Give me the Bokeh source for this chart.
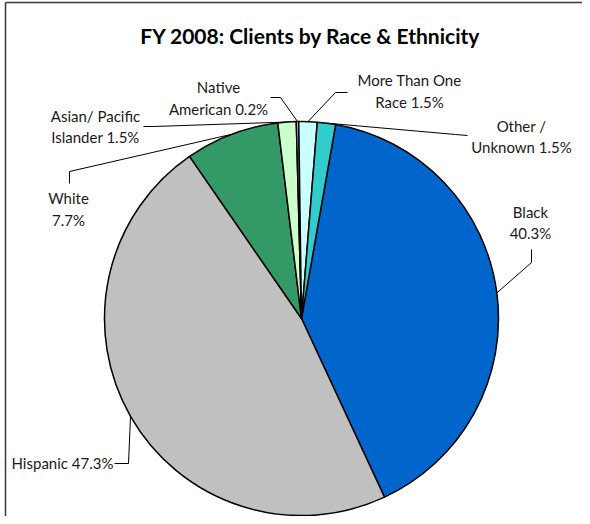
import numpy as np
from bokeh.plotting import figure
from bokeh.models import Range1d, ColumnDataSource
from bokeh.core.properties import value
from bokeh.embed import file_html
from bokeh.resources import INLINE

# ---- data ----
title_text = "FY 2008: Clients by Race & Ethnicity"
categories = ["Black", "Hispanic", "White", "Asian/ Pacific Islander",
              "Native American", "More Than One Race", "Other / Unknown"]
percents = [40.3, 47.3, 7.7, 1.5, 0.2, 1.5, 1.5]
label_names = ["Black\n", "Hispanic ", "White\n", "Asian/ Pacific\nIslander ",
               "Native\nAmerican ", "More Than One\nRace ", "Other /\nUnknown "]
colors = ["#0066CC", "#C0C0C0", "#339966", "#CCFFCC",
          "#99CCFF", "#CCFFFF", "#33CCCC"]

# ---- layout (pixel coordinates, y downward) ----
first_slice_angle = 10.0  # degrees clockwise from 12 o'clock
cx, cy, R = 301.0, 318.0, 197.0
label_pos = [(530, 222), (62, 462), (68, 208.5), (95, 126),
             (218, 97.5), (409, 90.5), (521, 136)]
leader_anchor = [[(531, 249), (531, 262)],
                 [(114, 463), (128, 463)],
                 [(69, 183), (69, 171)],
                 [(143, 126), (153, 126)],
                 [(270, 97), (280, 97)],
                 [(347, 92), (335, 92)],
                 [(467, 135), (455, 134)]]

W, H = 582, 516
p = figure(width=W, height=H, x_range=Range1d(0, W), y_range=Range1d(-H, 0),
           output_backend="svg", toolbar_location=None,
           x_axis_location=None, y_axis_location=None, min_border=0,
           outline_line_color=None, background_fill_color="white",
           border_fill_color="white")
p.grid.visible = False

# chart border (left and top edges visible)
p.segment(x0=[5, 5], y0=[-2, -2], x1=[5, 700], y1=[-700, -2],
          line_color="#3a3a3a", line_width=1.5)

# pie
pct = np.array(percents)
theta_end = first_slice_angle + np.cumsum(pct) * 3.6
theta_start = theta_end - pct * 3.6
src = ColumnDataSource(dict(
    start=np.radians(90 - theta_end), end=np.radians(90 - theta_start),
    color=colors, cat=categories))
p.wedge(x=cx, y=-cy, radius=R, start_angle="start", end_angle="end",
        fill_color="color", line_color="black", line_width=1.5, source=src)

# leader lines
mid = np.radians((theta_start + theta_end) / 2)
xs, ys = [], []
for i, anchors in enumerate(leader_anchor):
    ex = cx + R * np.sin(mid[i])
    ey = cy - R * np.cos(mid[i])
    pts = list(anchors) + [(ex, ey)]
    xs.append([q[0] for q in pts])
    ys.append([-q[1] for q in pts])
p.multi_line(xs=xs, ys=ys, line_color="black", line_width=1)

# labels
texts = [n + f"{v:.1f}%" for n, v in zip(label_names, percents)]
p.text(x=[q[0] for q in label_pos], y=[-q[1] for q in label_pos], text=texts,
       text_align="center", text_baseline="middle", text_font=value("Lato"),
       text_font_size="15px", text_line_height=1.2, text_color="#1a1a1a")

# title
p.text(x=[310], y=[-35], text=[title_text], text_align="center",
       text_baseline="middle", text_font=value("Lato"), text_font_size="21px",
       text_font_style="bold", text_color="black")

open("out.html", "w").write(file_html(p, INLINE))
